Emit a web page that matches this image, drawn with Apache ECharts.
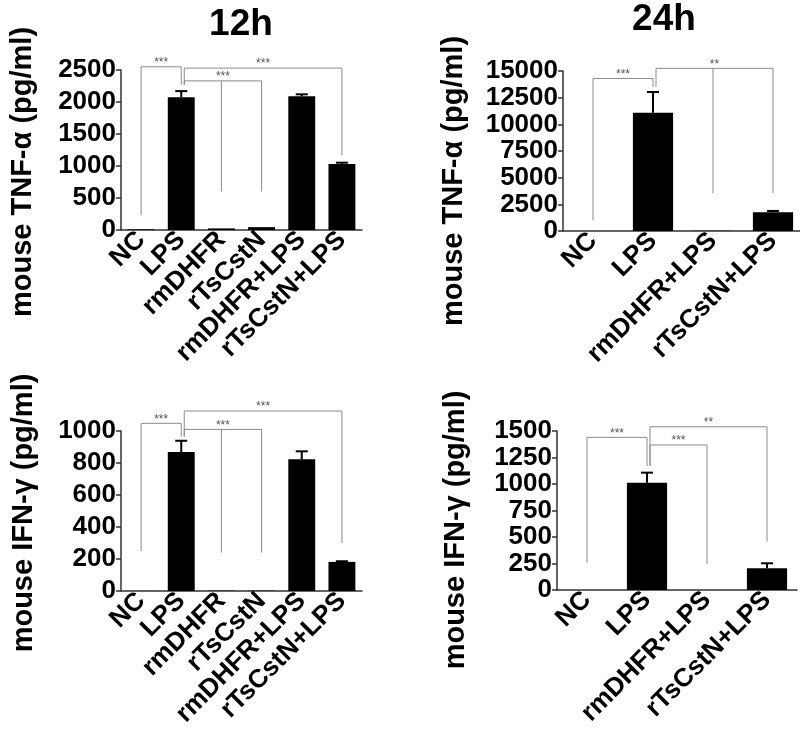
<!DOCTYPE html>
<html><head><meta charset="utf-8">
<script src="https://cdn.jsdelivr.net/npm/echarts@6/dist/echarts.min.js"></script>
<style>html,body{margin:0;padding:0;background:#fff}#c{width:800px;height:736px}</style>
</head><body><div id="c"></div>
<script>
// ---- data ----
const cats12 = ['NC', 'LPS', 'rmDHFR', 'rTsCstN', 'rmDHFR+LPS', 'rTsCstN+LPS'];
const cats24 = ['NC', 'LPS', 'rmDHFR+LPS', 'rTsCstN+LPS'];

const tnf12Mean  = [10, 2075, 25, 45, 2090, 1030];
const tnf12Upper = [null, 2170, null, null, 2120, 1052];
const tnf24Mean  = [0, 11080, 20, 1760];
const tnf24Upper = [null, 13030, null, 1880];
const ifn12Mean  = [1, 868, 2, 2, 823, 182];
const ifn12Upper = [null, 939, null, null, 873, 186];
const ifn24Mean  = [0, 1012, 0, 205];
const ifn24Upper = [null, 1107, null, 252];

const tnf12Ticks = [0, 2500, 500];
const tnf24Ticks = [0, 15000, 2500];
const ifn12Ticks = [0, 1000, 200];
const ifn24Ticks = [0, 1500, 250];

const tnf12Sig = [
  {from: 0, to: 1, y: 2550, fromEnd: 230, toEnd: 2270, label: '***'},
  {from: 1, to: 5, y: 2530, fromEnd: 2270, toEnd: 1170, label: '***'},
  {from: 1, to: 3, y: 2330, fromEnd: 2270, toEnd: 600, mid: [2, 600], label: '***'}
];
const tnf24Sig = [
  {from: 0, to: 1, y: 14300, fromEnd: 1000, toEnd: 13500, label: '***'},
  {from: 1, to: 3, y: 15250, fromEnd: 13500, toEnd: 3570, mid: [2, 3530], label: '**'}
];
const ifn12Sig = [
  {from: 0, to: 1, y: 1048, fromEnd: 250, toEnd: 965, label: '***'},
  {from: 1, to: 3, y: 1010, fromEnd: 965, toEnd: 240, mid: [2, 240], label: '***'},
  {from: 1, to: 5, y: 1125, fromEnd: 965, toEnd: 300, label: '***'}
];
const ifn24Sig = [
  {from: 0, to: 1, y: 1440, fromEnd: 258, toEnd: 1170, label: '***'},
  {from: 1, to: 2, y: 1368, fromEnd: 1170, toEnd: 245, label: '***'},
  {from: 1, to: 3, y: 1540, fromEnd: 1170, toEnd: 456, label: '**'}
];

const panelTitles = ['12h', '24h'];
const yNames = ['mouse TNF-α (pg/ml)', 'mouse TNF-α (pg/ml)', 'mouse IFN-γ (pg/ml)', 'mouse IFN-γ (pg/ml)'];

// ---- layout ----
const FONT = '"Liberation Sans", Arial, Helvetica, sans-serif';
const panels = [
  {cats: cats12, mean: tnf12Mean, upper: tnf12Upper, ticks: tnf12Ticks, sig: tnf12Sig, grid: {left: 121, top: 70, width: 241, height: 160}},
  {cats: cats24, mean: tnf24Mean, upper: tnf24Upper, ticks: tnf24Ticks, sig: tnf24Sig, grid: {left: 563, top: 71, width: 240, height: 160}},
  {cats: cats12, mean: ifn12Mean, upper: ifn12Upper, ticks: ifn12Ticks, sig: ifn12Sig, grid: {left: 121, top: 431, width: 241, height: 160}},
  {cats: cats24, mean: ifn24Mean, upper: ifn24Upper, ticks: ifn24Ticks, sig: ifn24Sig, grid: {left: 557, top: 431, width: 240, height: 159}}
];

const axisCol = '#333';
const grids = [], xAxes = [], yAxes = [], series = [];

function errRender(params, api) {
  const x = api.value(0), m = api.value(1), u = api.value(2);
  const pm = api.coord([x, m]), pu = api.coord([x, u]);
  return {type: 'group', children: [
    {type: 'line', shape: {x1: pm[0], y1: pm[1], x2: pu[0], y2: pu[1]}, style: {stroke: '#000', lineWidth: 2}},
    {type: 'line', shape: {x1: pu[0] - 6, y1: pu[1], x2: pu[0] + 6, y2: pu[1]}, style: {stroke: '#000', lineWidth: 2}}
  ]};
}

function makeSigRender(list) {
  return function (params, api) {
    const b = list[params.dataIndex];
    const off = b.from === 1 ? 3 : 0;
    const p0 = api.coord([b.from, b.y]);
    const p1 = api.coord([b.to, b.y]);
    const x0 = p0[0] + off, x1 = p1[0], y = p0[1];
    const st = {stroke: '#8a8a8a', lineWidth: 1};
    const ln = (xa, ya, xb, yb) => ({type: 'line', shape: {x1: xa, y1: ya, x2: xb, y2: yb}, style: st});
    const ch = [
      ln(x0, y, x1, y),
      ln(x0, y, x0, api.coord([b.from, b.fromEnd])[1]),
      ln(x1, y, x1, api.coord([b.to, b.toEnd])[1])
    ];
    if (b.mid) {
      const pm = api.coord([b.mid[0], b.mid[1]]);
      ch.push(ln(pm[0], y, pm[0], pm[1]));
    }
    ch.push({type: 'text', style: {text: b.label, x: (x0 + x1) / 2, y: y - 4, align: 'center', verticalAlign: 'middle', fontSize: 12, fontFamily: FONT, fill: '#555'}});
    return {type: 'group', children: ch};
  };
}

panels.forEach((p, i) => {
  grids.push(Object.assign({containLabel: false, outerBoundsMode: 'none'}, p.grid));
  xAxes.push({
    type: 'category', gridIndex: i, data: p.cats,
    axisLine: {lineStyle: {color: axisCol, width: 1.5}},
    axisTick: {alignWithLabel: true, length: 5, lineStyle: {color: axisCol, width: 1.5}},
    axisLabel: {rotate: 45, interval: 0, margin: 6, color: '#000', fontWeight: 'bold', fontSize: 26, fontFamily: FONT}
  });
  yAxes.push({
    type: 'value', gridIndex: i, min: p.ticks[0], max: p.ticks[1], interval: p.ticks[2],
    splitLine: {show: false},
    axisLine: {show: true, lineStyle: {color: axisCol, width: 1.5}},
    axisTick: {show: true, length: 5, lineStyle: {color: axisCol, width: 1.5}},
    axisLabel: {margin: 5, color: '#000', fontWeight: 'bold', fontSize: 26, fontFamily: FONT, formatter: v => String(v)}
  });
  series.push({
    type: 'bar', xAxisIndex: i, yAxisIndex: i, data: p.mean, barWidth: '67%',
    itemStyle: {color: '#000'}, silent: true
  });
  const errData = [];
  p.upper.forEach((u, k) => { if (u != null) errData.push([k, p.mean[k], u]); });
  series.push({
    type: 'custom', xAxisIndex: i, yAxisIndex: i, data: errData, renderItem: errRender,
    encode: {x: 0, y: [1, 2]}, silent: true, z: 3
  });
  series.push({
    type: 'custom', xAxisIndex: i, yAxisIndex: i, clip: false,
    data: p.sig.map(b => [b.from, b.y]), renderItem: makeSigRender(p.sig),
    encode: {x: 0, y: 1}, silent: true, z: 4
  });
});

const titlePos = [[241, 25], [664, 20]];
const yNamePos = [[23, 172], [454, 181], [24, 513], [456, 530]];
const graphics = [];
panelTitles.forEach((t, k) => graphics.push({
  type: 'text', x: titlePos[k][0], y: titlePos[k][1],
  style: {text: t, align: 'center', verticalAlign: 'middle', fontSize: 37, fontWeight: 'bold', fontFamily: FONT, fill: '#000'}
}));
yNames.forEach((t, k) => graphics.push({
  type: 'text', x: yNamePos[k][0], y: yNamePos[k][1], rotation: Math.PI / 2,
  style: {text: t, align: 'center', verticalAlign: 'middle', fontSize: 29, fontWeight: 'bold', fontFamily: FONT, fill: '#000'}
}));

const chart = echarts.init(document.getElementById('c'), null, {renderer: 'canvas'});
chart.setOption({
  backgroundColor: '#fff',
  animation: false,
  grid: grids, xAxis: xAxes, yAxis: yAxes, series: series,
  graphic: graphics
});
</script>
</body></html>
